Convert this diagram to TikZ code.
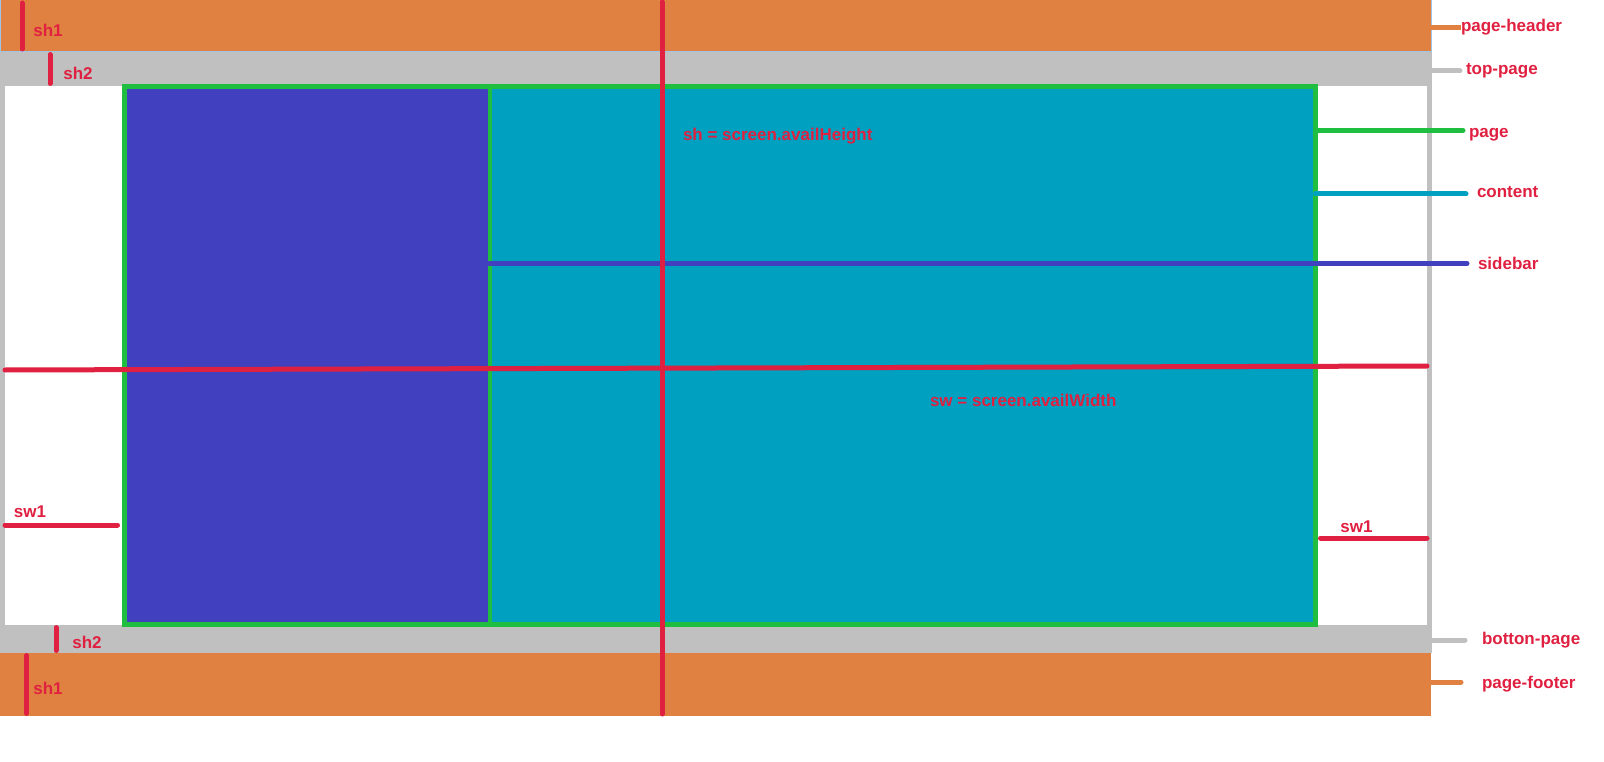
\documentclass[tikz,border=0pt]{standalone}
\usepackage{fontspec}
\setmainfont{Liberation Sans}
\definecolor{hdr}{RGB}{224,129,65}
\definecolor{grayband}{RGB}{192,192,192}
\definecolor{sbblue}{RGB}{65,65,192}
\definecolor{cnt}{RGB}{0,160,192}
\definecolor{pggreen}{RGB}{32,190,64}
\definecolor{rd}{RGB}{224,32,64}
\definecolor{edgeblue}{RGB}{160,196,232}
\begin{document}
\begin{tikzpicture}[x=1pt,y=-1pt,
  box/.style={anchor=north west, inner sep=0pt, outer sep=0pt},
  lbl/.style={text=rd, font=\bfseries\fontsize{17}{20}\selectfont, inner sep=0pt, outer sep=0pt},
  meas/.style={draw=rd, line width=5pt, line cap=round},
  conn/.style={line width=5pt, line cap=round}
]
\useasboundingbox (0,0) rectangle (1604,762);
% screen frame
\node[box, fill=grayband, minimum width=1432pt, minimum height=601pt] (frame) at (0,52) {};
\node[box, fill=white, minimum width=1422pt, minimum height=539pt] (inner) at (5,86) {};
\node[box, fill=hdr, draw=edgeblue, line width=1pt, minimum width=1431pt, minimum height=52pt] (header) at (0,0) {};
\node[box, fill=hdr, minimum width=1431pt, minimum height=63pt] (footer) at (0,653) {};
% page
\node[box, fill=sbblue, minimum width=366pt, minimum height=537pt] (sidebar) at (124,87) {};
\node[box, fill=cnt, minimum width=826pt, minimum height=537pt] (content) at (490,87) {};
\draw[pggreen, line width=4pt] (sidebar.north east) -- (sidebar.south east);
\node[box, draw=pggreen, line width=5pt, minimum width=1191pt, minimum height=538pt] (page) at (124.5,86.5) {};
% legend labels
\node[lbl, anchor=west] (hlab) at (1461,27.5) {page-header};
\node[lbl, anchor=west] (tlab) at (1466,71) {top-page};
\node[lbl, anchor=west] (plab) at (1469,134.5) {page};
\node[lbl, anchor=west] (clab) at (1477,192) {content};
\node[lbl, anchor=west] (slab) at (1478,263.5) {sidebar};
\node[lbl, anchor=west] (blab) at (1482,640) {botton-page};
\node[lbl, anchor=west] (flab) at (1482,684.5) {page-footer};
% legend connectors
\draw[conn, hdr, line cap=butt] (hlab.west -| header.east) -- (hlab.west);
\draw[conn, grayband, shorten >=6pt] (tlab.west -| frame.east) -- (tlab.west);
\draw[conn, pggreen, shorten <=3pt, shorten >=6pt] ([yshift=4pt]plab.west -| page.east) -- ([yshift=4pt]plab.west);
\draw[conn, cnt, shorten <=0pt, shorten >=11pt] ([yshift=-2pt]clab.west -| page.east) -- ([yshift=-2pt]clab.west);
\draw[conn, sbblue, shorten <=-1pt, shorten >=11pt] (slab.west -| sidebar.east) -- (slab.west);
\draw[conn, grayband, shorten >=17pt] (blab.west -| frame.east) -- (blab.west);
\draw[conn, hdr, shorten >=21pt] ([yshift=2.5pt]flab.west -| footer.east) -- ([yshift=2.5pt]flab.west);
% measurement lines
\draw[meas, shorten <=2pt, shorten >=2pt] (header.north -| 662,0) -- (footer.south -| 662,0);
\draw[meas] ([yshift=-14.5pt]inner.west) -- ([yshift=-10.5pt]inner.east);
\draw[meas, shorten <=3pt, shorten >=3pt] (header.north -| 22,0) -- (header.south -| 22,0);
\draw[meas, shorten <=2.5pt, shorten >=2.5pt] (header.south -| 50,0) -- (inner.north -| 50,0);
\draw[meas, shorten <=2.5pt, shorten >=2.5pt] (inner.south -| 56,0) -- (footer.north -| 56,0);
\draw[meas, shorten <=2.5pt, shorten >=2.5pt] (footer.north -| 26.5,0) -- (footer.south -| 26.5,0);
\draw[meas, shorten >=7pt] (inner.west |- 0,525) -- (page.west |- 0,525);
\draw[meas, shorten <=5pt] (page.east |- 0,538) -- (inner.east |- 0,538);
% measurement labels
\node[lbl] (sh1a) at (48,30.5) {sh1};
\node[lbl] (sh2a) at (78,73.5) {sh2};
\node[lbl] (sw1a) at (30,512) {sw1};
\node[lbl] (sw1b) at (1356.5,527) {sw1};
\node[lbl] (sh2b) at (87,642.5) {sh2};
\node[lbl] (sh1b) at (48,688.5) {sh1};
\node[lbl, anchor=west] (shl) at (683,136.5) {sh = screen.availHeight};
\node[lbl, anchor=west] (swl) at (930,400) {sw = screen.availWidth};
\end{tikzpicture}
\end{document}
